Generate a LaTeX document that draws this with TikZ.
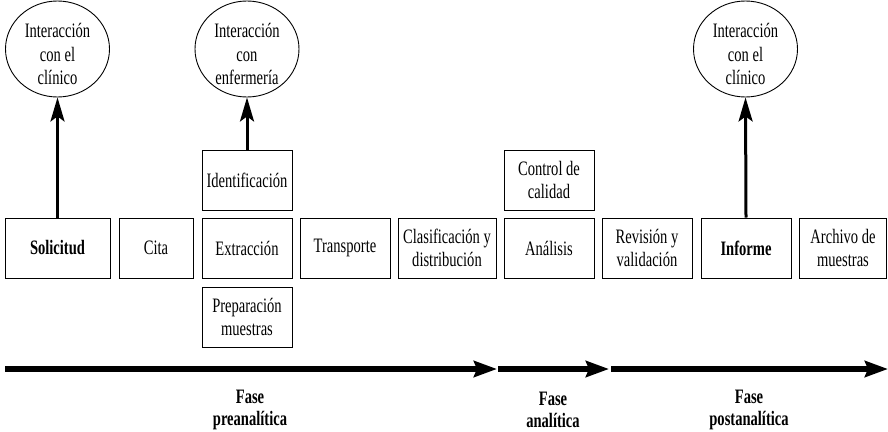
\documentclass[tikz,border=0pt]{standalone}
\usepackage{fontspec}
\setmainfont{Liberation Serif}[FakeStretch=0.71]
\usetikzlibrary{arrows.meta,shapes.geometric}
\begin{document}
\begin{tikzpicture}[x=1pt,y=-1pt,
  every node/.style={font=\fontsize{20.5}{23.5}\selectfont, inner sep=0pt, align=center},
  stepbox/.style={draw, line width=1pt, minimum height=60pt},
  bubble/.style={draw, ellipse, line width=0.9pt, minimum width=104pt, minimum height=96pt},
  uparrow/.style={line width=3pt, -{Stealth[length=24pt,width=14pt,inset=5pt]}},
  phase/.style={line width=6pt, -{Stealth[length=23pt,width=16pt,inset=3pt]}},
  phaselabel/.style={font=\fontsize{20.5}{22}\selectfont\bfseries}
]
\useasboundingbox (0,0) rectangle (888,431);

% main sequence of steps
\node[stepbox, minimum width=105pt] (sol) at (57.5,248) {\bfseries Solicitud};
\node[stepbox, minimum width=74pt]  (cita) at (156,248) {Cita};
\node[stepbox, minimum width=90pt]  (ext) at (247,248) {Extracción};
\node[stepbox, minimum width=90pt]  (tra) at (345,248) {Transporte};
\node[stepbox, minimum width=98pt]  (cla) at (447,248) {Clasificación y\\distribución};
\node[stepbox, minimum width=90pt]  (ana) at (549,248) {Análisis};
\node[stepbox, minimum width=90pt]  (rev) at (647,248) {Revisión y\\validación};
\node[stepbox, minimum width=90pt]  (inf) at (746,248) {\bfseries Informe};
\node[stepbox, minimum width=87pt]  (arc) at (843,248) {Archivo de\\muestras};

% side steps
\node[stepbox, minimum width=90pt] (ide) at (247,180) {Identificación};
\node[stepbox, minimum width=90pt] (pre) at (247,317) {Preparación\\muestras};
\node[stepbox, minimum width=90pt] (cal) at (549,180) {Control de\\calidad};

% interactions
\node[bubble] (c1) at (57.5,49) {};
\node at (57.5,54) {Interacción\\con el\\clínico};
\node[bubble] (c2) at (247,49) {};
\node at (247,54) {Interacción\\con\\enfermería};
\node[bubble] (c3) at (745.5,49) {};
\node at (745.5,54) {Interacción\\con el\\clínico};

\draw[uparrow] (sol.north) -- (c1.south);
\draw[uparrow] (ide.north) -- (c2.south);
\draw[uparrow] (inf.north) -- (c3.south);

% phase arrows
\coordinate (p0) at (5,369);
\coordinate (p1) at (497,369);
\coordinate (p2) at (498,369);
\coordinate (p3) at (609,369);
\coordinate (p4) at (611,369);
\coordinate (p5) at (888,369);
\draw[phase] (p0) -- (p1);
\draw[phase] (p2) -- (p3);
\draw[phase] (p4) -- (p5);

\node[phaselabel] (f1) at (250,410) {Fase\\preanalítica};
\node[phaselabel] (f2) at (553,410) {Fase\\analítica};
\node[phaselabel] (f3) at (749,410) {Fase\\postanalítica};
\end{tikzpicture}
\end{document}
